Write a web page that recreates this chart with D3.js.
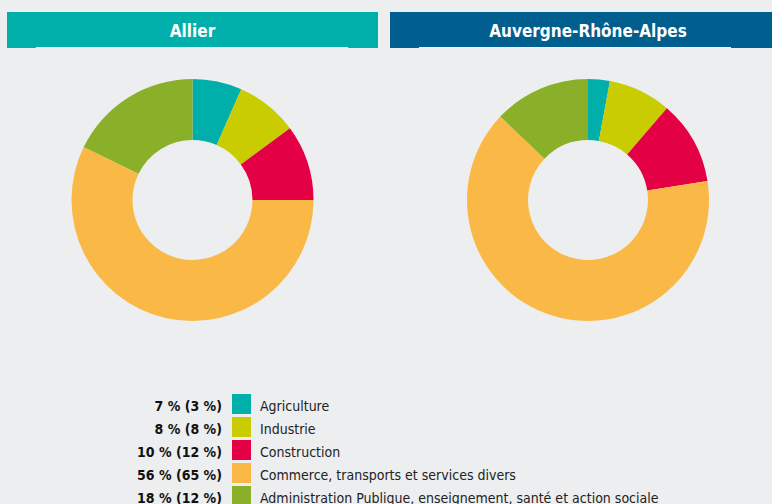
<!DOCTYPE html>
<html>
<head>
<meta charset="utf-8">
<script src="https://cdn.jsdelivr.net/npm/d3@7"></script>
<style>
  body { margin: 0; background: #eceef0; overflow: hidden; }
  svg { display: block; font-family: "DejaVu Sans Condensed", "DejaVu Sans", sans-serif; }
</style>
</head>
<body>
<svg id="chart" width="772" height="504"></svg>
<script>
// Secteurs d'activité
const categories = ["Agriculture", "Industrie", "Construction",
  "Commerce, transports et services divers",
  "Administration Publique, enseignement, santé et action sociale"];
const colors = ["#00afa9", "#c8cc00", "#e30045", "#fab946", "#8ab02a"];

// Parts affichées dans la légende (%), arrondies
const allierLabels = [7, 8, 10, 56, 18];
const regionLabels = [3, 8, 12, 65, 12];

const allierShares = [6.6, 8.3, 10.1, 57.2, 17.8];
const regionShares = [2.9, 8.4, 11.2, 64.6, 12.9];

const panelTitles = ["Allier", "Auvergne-Rhône-Alpes"];
const panelColors = ["#00afa9", "#005f8f"];

let svg = d3.select("#chart");

let colorScale = d3.scaleOrdinal().domain(categories).range(colors);

// Donut generator, starting at 12 o'clock, clockwise
let pie = d3.pie().sort(null).value((d) => d.value);
let arc = d3.arc().innerRadius(60).outerRadius(121);

// Panel layout: header bar + donut
let panels = [
  { title: panelTitles[0], color: panelColors[0], x0: 7, x1: 378, cx: 192.5, values: allierShares },
  { title: panelTitles[1], color: panelColors[1], x0: 390, x1: 772, cx: 588, values: regionShares }
];

panels.forEach((p) => {
  let g = svg.append("g");

  g.append("rect")
    .attr("x", p.x0).attr("y", 12)
    .attr("width", p.x1 - p.x0).attr("height", 36)
    .attr("fill", p.color);

  // thin light strip under the tab
  g.append("rect")
    .attr("x", p.x0 + 29).attr("y", 47)
    .attr("width", 312).attr("height", 1)
    .attr("fill", "#f2f4f5");

  g.append("text")
    .attr("x", p.cx)
    .attr("y", 36.5)
    .attr("text-anchor", "middle")
    .attr("fill", "white")
    .attr("font-weight", "bold")
    .attr("font-size", 17)
    .text(p.title);

  let data = categories.map((c, i) => ({ cat: c, value: p.values[i] }));

  g.append("g")
    .attr("transform", "translate(" + p.cx + ",200)")
    .selectAll("path")
    .data(pie(data))
    .join("path")
    .attr("d", arc)
    .attr("fill", (d) => colorScale(d.data.cat));
});

// Legend: "Allier % (région %)" + swatch + label
let legend = svg.append("g");
let rowY = d3.scaleLinear().domain([0, 1]).range([394, 417]);

let rows = legend.selectAll("g")
  .data(categories)
  .join("g")
  .attr("transform", (d, i) => "translate(0," + rowY(i) + ")");

rows.append("text")
  .attr("x", 222).attr("y", 16.5)
  .attr("text-anchor", "end")
  .attr("font-weight", "bold")
  .attr("font-size", 14)
  .attr("fill", "#111")
  .text((d, i) => allierLabels[i] + " % (" + regionLabels[i] + " %)");

rows.append("rect")
  .attr("x", 232).attr("y", 0)
  .attr("width", 19).attr("height", 20)
  .attr("fill", (d) => colorScale(d));

rows.append("text")
  .attr("x", 260).attr("y", 16.5)
  .attr("font-size", 14)
  .attr("fill", "#222")
  .text((d) => d);
</script>
</body>
</html>
